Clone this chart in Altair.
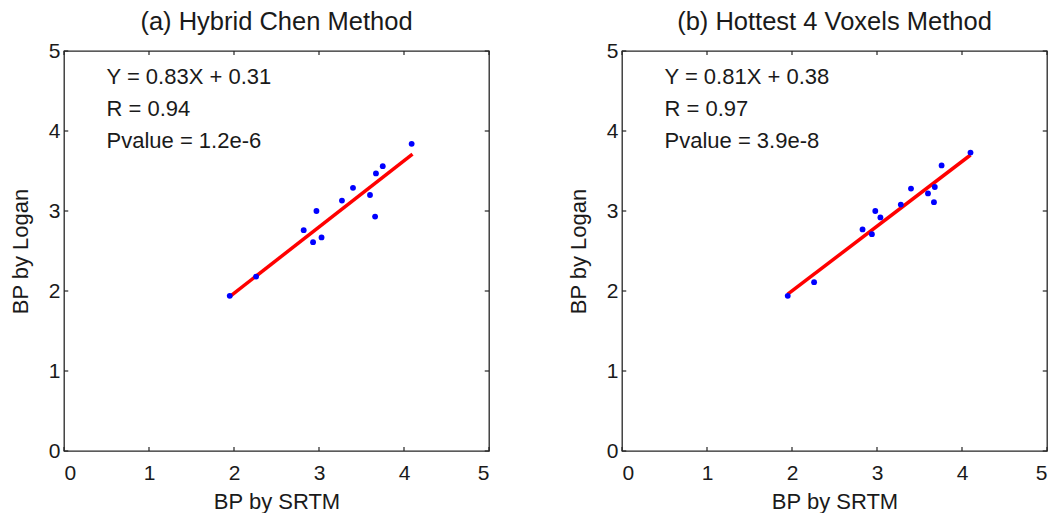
import altair as alt
import pandas as pd

# Data
x_srtm_a = [1.95, 2.26, 2.82, 2.93, 2.97, 3.03, 3.27, 3.40, 3.60, 3.66, 3.67, 3.75, 4.09]
y_logan_a = [1.94, 2.18, 2.76, 2.61, 3.00, 2.67, 3.13, 3.29, 3.20, 2.93, 3.47, 3.56, 3.84]

x_srtm_b = [1.95, 2.26, 2.83, 2.94, 2.98, 3.04, 3.28, 3.40, 3.60, 3.67, 3.68, 3.76, 4.10]
y_logan_b = [1.94, 2.11, 2.77, 2.71, 3.00, 2.92, 3.08, 3.28, 3.22, 3.11, 3.30, 3.57, 3.73]

fit_x_a = [1.95, 4.10]
fit_y_a = [1.93, 3.71]
fit_x_b = [1.95, 4.10]
fit_y_b = [1.96, 3.70]

notes_a = ["Y = 0.83X + 0.31", "R = 0.94", "Pvalue = 1.2e-6"]
notes_b = ["Y = 0.81X + 0.38", "R = 0.97", "Pvalue = 3.9e-8"]
note_x = [0.5, 0.5, 0.5]
note_y = [4.67, 4.27, 3.87]

titles = ["(a) Hybrid Chen Method", "(b) Hottest 4 Voxels Method"]
tick_values = [0, 1, 2, 3, 4, 5]

FONT = "Liberation Sans"
INK = "#1a1a1a"
FRAME = "#262626"
W, H = 425, 400
TLX = 0.05   # inward tick length in x data units (about 4 px)
TLY = 0.05   # inward tick length in y data units (about 4 px)


def panel(xs, ys, fx, fy, notes, title):
    pts = pd.DataFrame({"x": xs, "y": ys})
    fit = pd.DataFrame({"x": fx, "y": fy})
    txt = pd.DataFrame({"x": note_x, "y": note_y, "t": notes})
    n = len(tick_values)
    vt = pd.DataFrame({"x": tick_values * 2,
                       "y": [0] * n + [5] * n,
                       "y2": [TLY] * n + [5 - TLY] * n})
    ht = pd.DataFrame({"y": tick_values * 2,
                       "x": [0] * n + [5] * n,
                       "x2": [TLX] * n + [5 - TLX] * n})

    xscale = alt.Scale(domain=[0, 5], nice=False)
    yscale = alt.Scale(domain=[0, 5], nice=False)
    common = dict(grid=False, domain=False, ticks=False, format="d",
                  labelFont=FONT, titleFont=FONT, labelFontSize=21, titleFontSize=22,
                  labelColor=INK, titleColor=INK, titleFontWeight="normal")
    xaxis = alt.Axis(values=tick_values, title="BP by SRTM",
                     labelPadding=11, titlePadding=8, **common)
    yaxis = alt.Axis(values=tick_values, title="BP by Logan",
                     labelPadding=4, titlePadding=16, **common)

    base_x = alt.X("x:Q", scale=xscale, axis=xaxis)
    base_y = alt.Y("y:Q", scale=yscale, axis=yaxis)

    vticks = alt.Chart(vt).mark_rule(color=FRAME, strokeWidth=1.2).encode(
        x=base_x, y=base_y, y2="y2:Q")
    hticks = alt.Chart(ht).mark_rule(color=FRAME, strokeWidth=1.2).encode(
        x=base_x, x2="x2:Q", y=base_y)

    line = alt.Chart(fit).mark_line(color="#ff0000", strokeWidth=3.5).encode(x=base_x, y=base_y)
    dots = alt.Chart(pts).mark_circle(color="#0000ff", opacity=1, size=34).encode(x=base_x, y=base_y)
    text = alt.Chart(txt).mark_text(align="left", baseline="middle", fontSize=22, font=FONT,
                                    color=INK).encode(x=base_x, y=base_y, text="t:N")

    return alt.layer(line, dots, text, vticks, hticks).properties(
        width=W, height=H,
        title=alt.TitleParams(title, fontSize=25.5, font=FONT, fontWeight="normal",
                              color=INK, offset=5, anchor="middle"))


left = panel(x_srtm_a, y_logan_a, fit_x_a, fit_y_a, notes_a, titles[0])
right = panel(x_srtm_b, y_logan_b, fit_x_b, fit_y_b, notes_b, titles[1])

chart = alt.hconcat(left, right, spacing=75, background="white", padding=0).configure_view(
    stroke=FRAME, strokeWidth=1.3
)

chart.save("out.html", embed_options={"renderer": "svg", "actions": False})
